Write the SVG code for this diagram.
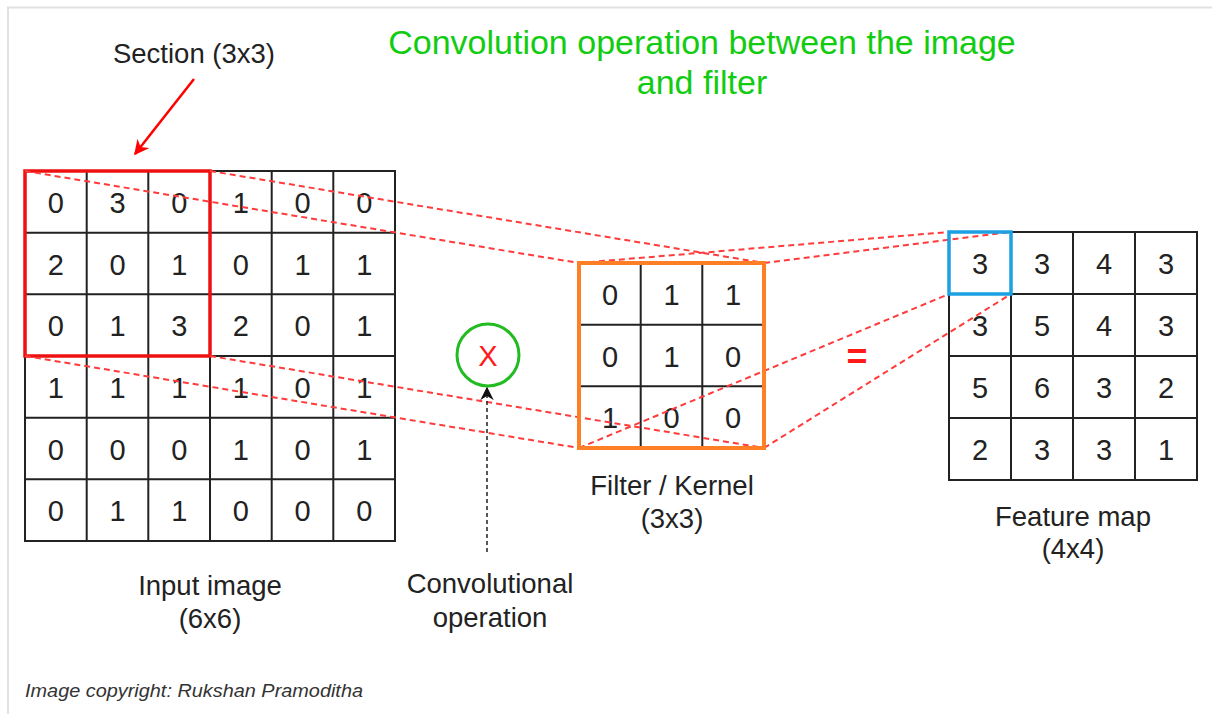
<svg xmlns="http://www.w3.org/2000/svg" width="1216" height="714" viewBox="0 0 1216 714">
<defs>
<style>
.t{font-family:"Liberation Sans",Arial,sans-serif;fill:#222;text-anchor:middle}
.cell{font-size:29px}
.lbl{font-size:27.5px}
.grid{fill:none;stroke:#222;stroke-width:2}
.dash{fill:none;stroke:#ff3b3b;stroke-width:2;stroke-dasharray:6 4}
</style>
<marker id="redArrow" viewBox="0 0 10 10" refX="9" refY="5" markerWidth="6" markerHeight="6" orient="auto" markerUnits="strokeWidth">
<path d="M0,0 L10,5 L0,10 L3,5 Z" fill="#ff0000"/>
</marker>
<marker id="blkArrow" viewBox="0 0 10 10" refX="9" refY="5" markerWidth="9" markerHeight="9" orient="auto" markerUnits="strokeWidth">
<path d="M0,0 L10,5 L0,10 L3,5 Z" fill="#111"/>
</marker>
</defs>
<rect width="1216" height="714" fill="#fff"/>
<path d="M8,714 V7.5 H1212" fill="none" stroke="#e2e2e2" stroke-width="2"/>

<g id="title">
<text class="t" x="702" y="54" style="font-size:34px;fill:#11cc11">Convolution operation between the image</text>
<text class="t" x="702" y="94" style="font-size:34px;fill:#11cc11">and filter</text>
</g>

<g id="section-label">
<text class="t lbl" x="194" y="63">Section (3x3)</text>
</g>

<g id="input-image">
<rect class="grid" x="25" y="171" width="370" height="370"/>
<path class="grid" d="M86.7,171V541M148.3,171V541M210,171V541M271.7,171V541M333.3,171V541M25,232.7H395M25,294.3H395M25,356H395M25,417.7H395M25,479.3H395"/>
<g class="t cell">
<text x="55.8" y="213">0</text><text x="117.5" y="213">3</text><text x="179.2" y="213">0</text><text x="240.8" y="213">1</text><text x="302.5" y="213">0</text><text x="364.2" y="213">0</text>
<text x="55.8" y="274.7">2</text><text x="117.5" y="274.7">0</text><text x="179.2" y="274.7">1</text><text x="240.8" y="274.7">0</text><text x="302.5" y="274.7">1</text><text x="364.2" y="274.7">1</text>
<text x="55.8" y="336.3">0</text><text x="117.5" y="336.3">1</text><text x="179.2" y="336.3">3</text><text x="240.8" y="336.3">2</text><text x="302.5" y="336.3">0</text><text x="364.2" y="336.3">1</text>
<text x="55.8" y="398">1</text><text x="117.5" y="398">1</text><text x="179.2" y="398">1</text><text x="240.8" y="398">1</text><text x="302.5" y="398">0</text><text x="364.2" y="398">1</text>
<text x="55.8" y="459.7">0</text><text x="117.5" y="459.7">0</text><text x="179.2" y="459.7">0</text><text x="240.8" y="459.7">1</text><text x="302.5" y="459.7">0</text><text x="364.2" y="459.7">1</text>
<text x="55.8" y="521.3">0</text><text x="117.5" y="521.3">1</text><text x="179.2" y="521.3">1</text><text x="240.8" y="521.3">0</text><text x="302.5" y="521.3">0</text><text x="364.2" y="521.3">0</text>
</g>
<text class="t lbl" x="210" y="595">Input image</text>
<text class="t lbl" x="210" y="628">(6x6)</text>
</g>

<g id="section-box">
<rect x="25" y="171" width="185" height="185" fill="none" stroke="#ee1111" stroke-width="3.5"/>
</g>

<g id="operator">
<circle cx="488" cy="355" r="31" fill="#fff" stroke="#22bb22" stroke-width="3"/>
<text class="t" x="488" y="366" style="font-size:29px;fill:#ff1a1a">X</text>
<text class="t lbl" x="490" y="593">Convolutional</text>
<text class="t lbl" x="490" y="627">operation</text>
</g>

<g id="filter">
<rect x="579" y="263" width="185" height="185" fill="#fff" stroke="none"/>
<path class="grid" d="M640.7,263V448M702.3,263V448M579,324.7H764M579,386.3H764"/>
<g class="t cell">
<text x="610" y="305">0</text><text x="671.5" y="305">1</text><text x="733" y="305">1</text>
<text x="610" y="366.5">0</text><text x="671.5" y="366.5">1</text><text x="733" y="366.5">0</text>
<text x="610" y="428">1</text><text x="671.5" y="428">0</text><text x="733" y="428">0</text>
</g>
<text class="t lbl" x="672" y="495">Filter / Kernel</text>
<text class="t lbl" x="672" y="528">(3x3)</text>
</g>

<g id="equals">
<text class="t" x="857" y="369" style="font-size:36px;font-weight:bold;fill:#ff1a1a">=</text>
</g>

<g id="feature-map">
<rect class="grid" x="949" y="232" width="248" height="248"/>
<path class="grid" d="M1011,232V480M1073,232V480M1135,232V480M949,294H1197M949,356H1197M949,418H1197"/>
<g class="t cell">
<text x="980" y="273.5">3</text><text x="1042" y="273.5">3</text><text x="1104" y="273.5">4</text><text x="1166" y="273.5">3</text>
<text x="980" y="335.5">3</text><text x="1042" y="335.5">5</text><text x="1104" y="335.5">4</text><text x="1166" y="335.5">3</text>
<text x="980" y="397.5">5</text><text x="1042" y="397.5">6</text><text x="1104" y="397.5">3</text><text x="1166" y="397.5">2</text>
<text x="980" y="459.5">2</text><text x="1042" y="459.5">3</text><text x="1104" y="459.5">3</text><text x="1166" y="459.5">1</text>
</g>
<text class="t lbl" x="1073" y="526">Feature map</text>
<text class="t lbl" x="1073" y="558">(4x4)</text>
</g>

<g id="connectors">
<line class="dash" x1="25" y1="171" x2="579" y2="263"/>
<line class="dash" x1="210" y1="171" x2="764" y2="263"/>
<line class="dash" x1="25" y1="356" x2="579" y2="448"/>
<line class="dash" x1="210" y1="356" x2="764" y2="448"/>
<line class="dash" x1="579" y1="263" x2="949" y2="232"/>
<line class="dash" x1="764" y1="263" x2="1011" y2="232"/>
<line class="dash" x1="579" y1="448" x2="949" y2="294"/>
<line class="dash" x1="764" y1="448" x2="1011" y2="294"/>
<line x1="194" y1="79" x2="135" y2="154" stroke="#ff0000" stroke-width="2.5" marker-end="url(#redArrow)"/>
<line x1="487" y1="552" x2="487" y2="388" stroke="#222" stroke-width="1.5" stroke-dasharray="4 3" marker-end="url(#blkArrow)"/>
</g>

<g id="filter-border">
<rect x="579" y="263" width="185" height="185" fill="none" stroke="#ff7f27" stroke-width="4"/>
</g>
<g id="highlight">
<rect x="949" y="232" width="62" height="62" fill="none" stroke="#1ba1e2" stroke-width="3.5"/>
</g>

<g id="copyright">
<text x="25" y="697" textLength="338" lengthAdjust="spacingAndGlyphs" style="font-family:'Liberation Sans',Arial,sans-serif;font-style:italic;font-size:18.5px;fill:#333">Image copyright: Rukshan Pramoditha</text>
</g>
</svg>
